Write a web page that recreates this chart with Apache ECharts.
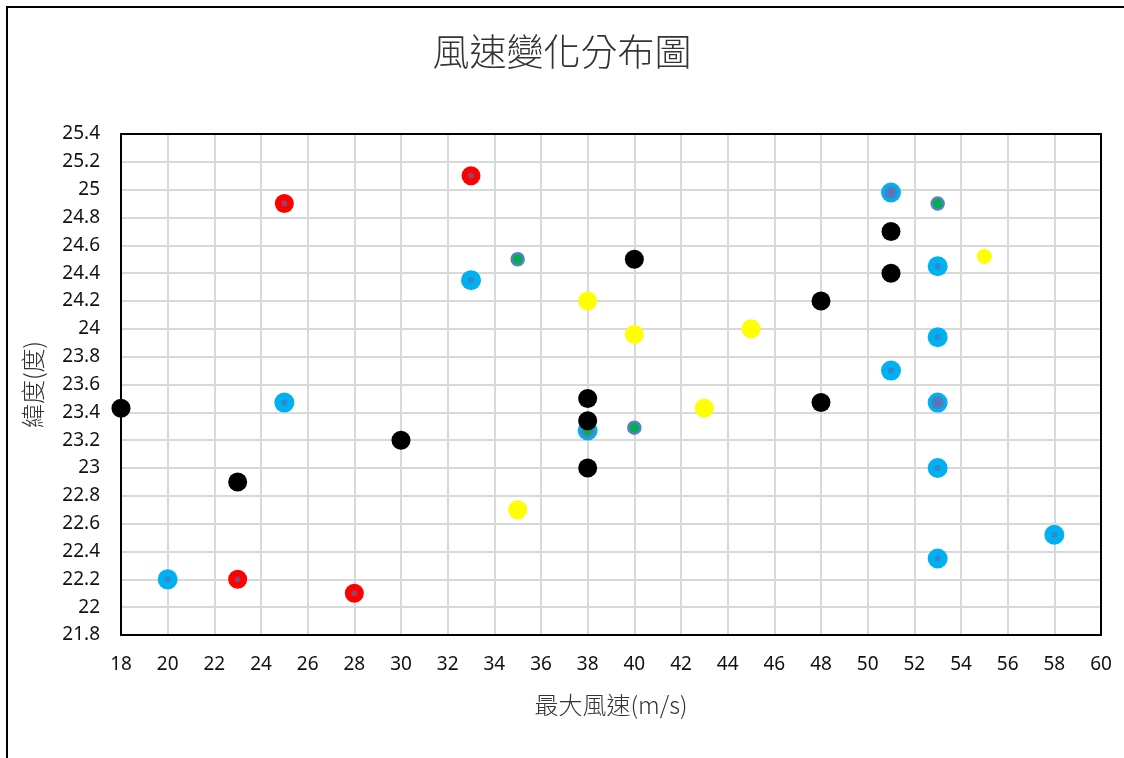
<!DOCTYPE html>
<html>
<head>
<meta charset="utf-8">
<script src="https://cdn.jsdelivr.net/npm/echarts@6/dist/echarts.min.js"></script>
<style>
html,body{margin:0;padding:0;background:#fff;}
#chart{width:1124px;height:758px;}
</style>
</head>
<body>
<div id="chart"></div>
<script>
// Data: [max wind speed (m/s), latitude (deg)]
const redPoints = [[25, 24.9], [33, 25.1], [23, 22.2], [28, 22.1]];
const cyanPoints = [[20, 22.2], [25, 23.47], [33, 24.35], [51, 24.98], [53, 24.45], [53, 23.94], [51, 23.7], [53, 23.47], [53, 23.0], [53, 22.35], [58, 22.52], [38, 23.27]];
const steelPoints = [[51, 24.98], [53, 23.47]];
const greenPoints = [[35, 24.5], [53, 24.9], [40, 23.29], [38, 23.27]];
const blackPoints = [[18, 23.43], [23, 22.9], [30, 23.2], [38, 23.5], [38, 23.34], [38, 23.0], [40, 24.5], [48, 24.2], [48, 23.47], [51, 24.7], [51, 24.4]];
const yellowPoints = [[38, 24.2], [40, 23.96], [45, 24.0], [43, 23.43], [35, 22.7]];
const yellowSmallPoints = [[55, 24.52]];
const innerPoints = redPoints.concat(cyanPoints);

const titleText = '風速變化分布圖';
const xName = '最大風速(m/s)';
const yName = '緯度(度)';

const chart = echarts.init(document.getElementById('chart'), null, {renderer: 'canvas'});
const labelFont = {color: '#111', fontSize: 19, fontFamily: 'Noto Sans'};
const cjkFont = 'Noto Sans CJK TC';

chart.setOption({
  animation: false,
  backgroundColor: '#fff',
  title: {
    text: titleText,
    left: 'center',
    top: 28,
    textStyle: {fontFamily: cjkFont, fontSize: 37, fontWeight: 300, color: '#333'}
  },
  graphic: [{
    type: 'rect',
    shape: {x: 7, y: 7, width: 1200, height: 800},
    style: {fill: 'none', stroke: '#000', lineWidth: 2},
    silent: true,
    z: -1
  }],
  grid: {
    left: 121, right: 23, top: 134, bottom: 123,
    show: true, borderColor: '#000', borderWidth: 2, backgroundColor: 'transparent',
    z: 1
  },
  xAxis: {
    type: 'value',
    min: 18, max: 60, interval: 2,
    name: xName,
    nameLocation: 'middle',
    nameGap: 58,
    nameTextStyle: {fontFamily: cjkFont, fontSize: 24, fontWeight: 300, color: '#333'},
    axisLine: {show: false},
    axisTick: {show: false},
    axisLabel: Object.assign({margin: 20}, labelFont),
    splitLine: {show: true, lineStyle: {color: '#d9d9d9', width: 2}},
    z: 0
  },
  yAxis: {
    type: 'value',
    min: 21.8, max: 25.4, interval: 0.2,
    name: yName,
    nameLocation: 'middle',
    nameGap: 76,
    nameTextStyle: {fontFamily: cjkFont, fontSize: 24, fontWeight: 300, color: '#333'},
    axisLine: {show: false},
    axisTick: {show: false},
    axisLabel: Object.assign({margin: 21, formatter: v => String(Math.round(v * 10) / 10)}, labelFont),
    splitLine: {show: true, lineStyle: {color: '#d9d9d9', width: 2}},
    z: 0
  },
  series: [
    {type: 'scatter', name: 'red', data: redPoints, symbolSize: 19, itemStyle: {color: '#FF0000', opacity: 1}, z: 2},
    {type: 'scatter', name: 'cyan', data: cyanPoints, symbolSize: 20, itemStyle: {color: '#00B0F0', opacity: 1}, z: 2},
    {type: 'scatter', name: 'steel', data: steelPoints, symbolSize: 13, itemStyle: {color: '#4F7FC2', opacity: 1}, z: 3},
    {type: 'scatter', name: 'inner', data: innerPoints, symbolSize: 6, itemStyle: {color: 'rgba(80,112,180,0.6)', opacity: 1}, z: 3},
    {type: 'scatter', name: 'green', data: greenPoints, symbolSize: 12, itemStyle: {color: '#00B050', borderColor: '#5B7FC0', borderWidth: 2.5, opacity: 1}, z: 4},
    {type: 'scatter', name: 'black', data: blackPoints, symbolSize: 19, itemStyle: {color: '#000000', opacity: 1}, z: 5},
    {type: 'scatter', name: 'yellow', data: yellowPoints, symbolSize: 19, itemStyle: {color: '#FFFF00', opacity: 1}, z: 5},
    {type: 'scatter', name: 'yellowSmall', data: yellowSmallPoints, symbolSize: 15, itemStyle: {color: '#FFFF00', opacity: 1}, z: 5}
  ]
});
</script>
</body>
</html>
